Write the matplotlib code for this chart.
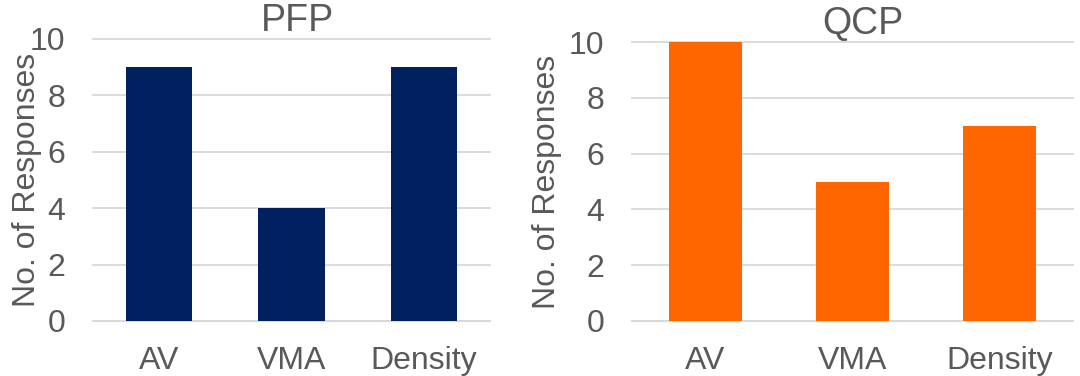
import matplotlib
matplotlib.use("Agg")
import matplotlib.pyplot as plt

categories = ["AV", "VMA", "Density"]
pfp_values = [9, 4, 9]
qcp_values = [10, 5, 7]
y_ticks = [0, 2, 4, 6, 8, 10]

text_color = "#595959"
grid_color = "#D9D9D9"

plt.rcParams["font.family"] = ["Liberation Sans", "DejaVu Sans"]

fig = plt.figure(figsize=(10.8, 3.76), dpi=100)

ax_left = fig.add_axes([93 / 1080, 1 - 321 / 376, 397 / 1080, (321 - 39) / 376])
ax_right = fig.add_axes([632 / 1080, 1 - 321 / 376, 441 / 1080, (321 - 42) / 376])

panels = [
    (ax_left, pfp_values, "#002060", "PFP", 0.515, -0.128),
    (ax_right, qcp_values, "#FF6600", "QCP", 0.524, -0.159),
]

for ax, values, color, title, title_x, label_x in panels:
    ax.bar(categories, values, width=0.5, color=color, zorder=3)
    ax.set_xlim(-0.5, len(categories) - 0.5)
    ax.set_ylim(0, 10)
    ax.set_yticks(y_ticks)
    ax.yaxis.grid(True, color=grid_color, linewidth=1.3, zorder=0)
    ax.set_axisbelow(True)
    for side in ["top", "right", "left"]:
        ax.spines[side].set_visible(False)
    ax.spines["bottom"].set_color(grid_color)
    ax.spines["bottom"].set_linewidth(1.3)
    ax.tick_params(axis="both", length=0, labelsize=23, labelcolor=text_color)
    ax.tick_params(axis="y", pad=20)
    ax.tick_params(axis="x", pad=18)
    for gl in ax.get_ygridlines():
        gl.set_clip_on(False)
    ax.set_ylabel("No. of Responses", fontsize=23, color=text_color)
    ax.yaxis.set_label_coords(label_x, 0.5)
    ax.set_title(title, fontsize=27, color=text_color, x=title_x, pad=0)

fig.savefig("out.png", dpi=100)
